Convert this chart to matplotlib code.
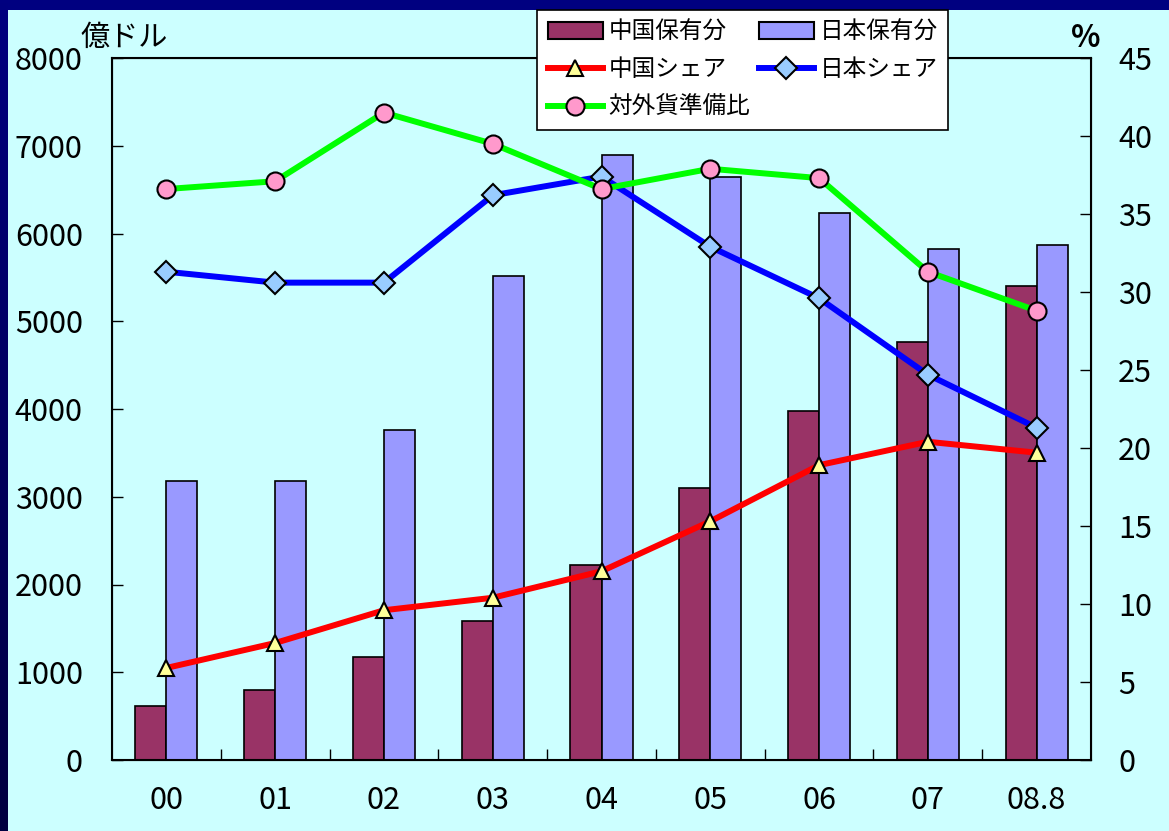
import numpy as np
import matplotlib
matplotlib.use("Agg")
import matplotlib.pyplot as plt
from matplotlib.patches import Patch
from matplotlib.lines import Line2D

plt.rcParams['font.family'] = ['Noto Sans CJK JP', 'DejaVu Sans']

years = ["00", "01", "02", "03", "04", "05", "06", "07", "08.8"]

# holdings, 100 million dollars
china_hold = [615, 798, 1174, 1584, 2222, 3100, 3977, 4763, 5402]
japan_hold = [3179, 3179, 3761, 5516, 6895, 6640, 6234, 5823, 5869]

# shares, percent
china_share = [5.9, 7.5, 9.6, 10.4, 12.1, 15.3, 18.9, 20.4, 19.7]
japan_share = [31.3, 30.6, 30.6, 36.2, 37.4, 32.9, 29.6, 24.7, 21.3]
reserve_ratio = [36.6, 37.1, 41.5, 39.5, 36.6, 37.9, 37.3, 31.3, 28.8]

TICK_FS = 22
LEG_FS = 17
W, H = 1169, 831

fig = plt.figure(figsize=(W / 100, H / 100), dpi=100, facecolor="#ccffff")

# navy slide border: top band and a left strip that darkens downward
top = fig.add_axes([0, 1 - 10 / H, 1, 10 / H])
top.set_axis_off()
top.add_patch(plt.Rectangle((0, 0), 1, 1, color="#000080", transform=top.transAxes))
left = fig.add_axes([0, 0, 8 / W, 1])
left.set_axis_off()
grad = np.linspace(0, 1, 256).reshape(-1, 1)
cmap = matplotlib.colors.LinearSegmentedColormap.from_list("navy", ["#000040", "#000080"])
left.imshow(grad, aspect="auto", cmap=cmap, origin="lower", extent=[0, 1, 0, 1])

ax = fig.add_axes([112 / W, 1 - 760 / H, (1091 - 112) / W, (760 - 58) / H])
ax.set_facecolor("#ccffff")

x = np.arange(len(years))
bw = 0.285
ax.bar(x - bw / 2, china_hold, bw, color="#993366", edgecolor="black", linewidth=1.2)
ax.bar(x + bw / 2, japan_hold, bw, color="#9999ff", edgecolor="black", linewidth=1.2)

ax.set_xlim(-0.5, len(years) - 0.5)
ax.set_ylim(0, 8000)
ax.set_yticks(range(0, 8001, 1000))
ax.set_xticks(x)
ax.set_xticklabels(years)
ax.set_xticks(x[:-1] + 0.5, minor=True)
ax.tick_params(axis="x", which="major", length=0, pad=18, labelsize=TICK_FS)
ax.tick_params(axis="x", which="minor", direction="in", length=8, width=1)
ax.tick_params(axis="y", direction="in", length=8, width=1, pad=21, labelsize=TICK_FS)
for s in ax.spines.values():
    s.set_linewidth(1.5)

ax2 = ax.twinx()
ax2.set_ylim(0, 45)
ax2.set_yticks(range(0, 46, 5))
ax2.tick_params(axis="y", direction="in", length=8, width=1, pad=19.5, labelsize=TICK_FS)

ax2.plot(x, china_share, color="#ff0000", lw=4.3, marker="^", ms=11,
         mfc="#ffff99", mec="black", mew=1.5)
ax2.plot(x, japan_share, color="#0000ff", lw=4.3, marker="D", ms=11,
         mfc="#99ccff", mec="black", mew=1.5)
ax2.plot(x, reserve_ratio, color="#00ff00", lw=4.3, marker="o", ms=13,
         mfc="#ff99cc", mec="black", mew=1.5)

fig.text(80 / W, 1 - 38 / H, "億ドル", fontsize=21, ha="left", va="center")
fig.text(1086 / W, 1 - 38 / H, "%", fontsize=22, fontweight="bold", ha="center", va="center")

handles = [
    Patch(facecolor="#993366", edgecolor="black", linewidth=1.5),
    Line2D([], [], color="#ff0000", lw=4.3, marker="^", ms=11, mfc="#ffff99", mec="black", mew=1.5),
    Line2D([], [], color="#00ff00", lw=4.3, marker="o", ms=13, mfc="#ff99cc", mec="black", mew=1.5),
    Patch(facecolor="#9999ff", edgecolor="black", linewidth=1.5),
    Line2D([], [], color="#0000ff", lw=4.3, marker="D", ms=11, mfc="#99ccff", mec="black", mew=1.5),
]
labels = ["中国保有分", "中国シェア", "対外貨準備比", "日本保有分", "日本シェア"]
leg = fig.legend(handles, labels, ncol=2, loc="upper left",
                 bbox_to_anchor=(537 / W, 1 - 10 / H), fontsize=LEG_FS,
                 frameon=True, fancybox=False, framealpha=1, edgecolor="black",
                 handlelength=2.33, handletextpad=0.25, columnspacing=0.35,
                 labelspacing=0.62, borderpad=0.45, borderaxespad=0)
leg.get_frame().set_linewidth(1.2)

fig.savefig("out.png", dpi=100, facecolor=fig.get_facecolor())
